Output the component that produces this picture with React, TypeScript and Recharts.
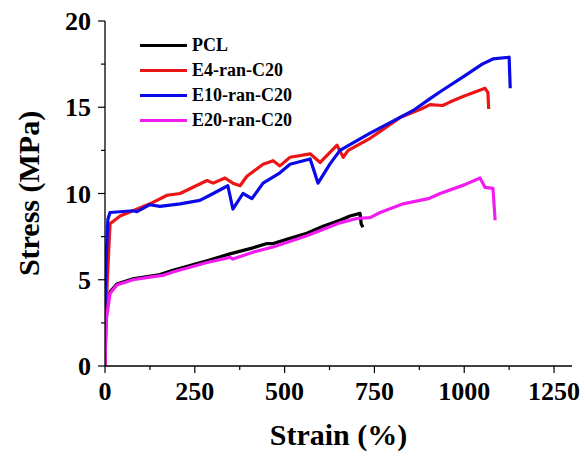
import { LineChart, Line, XAxis, YAxis } from 'recharts';

// [strain %, stress MPa]
const pclCurve: [number, number][] = [
  [0, 0], [3, 3.0], [14, 4.3], [33, 4.75], [78, 5.05], [153, 5.3], [189, 5.55],
  [284, 6.1], [348, 6.5], [412, 6.85], [451, 7.1], [468, 7.1], [515, 7.4],
  [562, 7.7], [607, 8.1], [654, 8.45], [682, 8.7], [710, 8.85], [713, 8.25], [718, 8.05],
];
const e4Curve: [number, number][] = [
  [0, 0], [2, 2.5], [6, 4.8], [14, 8.25], [42, 8.7], [78, 9.0], [125, 9.4], [173, 9.9],
  [209, 10.0], [284, 10.75], [301, 10.6], [334, 10.9], [356, 10.6], [376, 10.45],
  [395, 11.0], [440, 11.7], [468, 11.9], [487, 11.6], [515, 12.1], [571, 12.3],
  [599, 11.8], [646, 12.8], [663, 12.1], [677, 12.5], [738, 13.2], [766, 13.6],
  [821, 14.4], [880, 14.9], [905, 15.15], [940, 15.1], [960, 15.3], [1000, 15.65],
  [1045, 16.0], [1058, 16.1], [1066, 15.85], [1068, 14.9],
];
const e10Curve: [number, number][] = [
  [0, 3.4], [3, 6.0], [8, 8.5], [14, 8.9], [78, 9.0], [89, 8.95], [125, 9.35], [153, 9.25],
  [209, 9.4], [264, 9.6], [292, 9.9], [342, 10.45], [356, 9.1], [384, 10.0], [409, 9.7],
  [440, 10.6], [487, 11.2], [515, 11.7], [571, 12.0], [579, 11.5], [593, 10.6],
  [626, 11.7], [654, 12.5], [738, 13.5], [766, 13.8], [857, 14.8], [905, 15.5],
  [933, 15.9], [1000, 16.8], [1050, 17.5], [1080, 17.8], [1125, 17.9], [1128, 16.1],
];
const e20Curve: [number, number][] = [
  [0, 0], [3, 2.6], [14, 4.2], [33, 4.7], [78, 5.0], [125, 5.15], [161, 5.25],
  [189, 5.45], [284, 6.0], [348, 6.3], [356, 6.2], [412, 6.6], [468, 6.9],
  [562, 7.55], [654, 8.3], [701, 8.55], [738, 8.6], [766, 8.9], [830, 9.4],
  [900, 9.7], [933, 10.0], [1000, 10.5], [1044, 10.9], [1058, 10.35], [1080, 10.3],
  [1086, 8.45],
];

const xTicks = [0, 125, 250, 375, 500, 625, 750, 875, 1000, 1125, 1250];
const yTicks = [0, 2.5, 5, 7.5, 10, 12.5, 15, 17.5, 20];

const series = [
  { name: 'PCL', color: '#000000', curve: pclCurve },
  { name: 'E4-ran-C20', color: '#ec1515', curve: e4Curve },
  { name: 'E10-ran-C20', color: '#0a0ae6', curve: e10Curve },
  { name: 'E20-ran-C20', color: '#f01cf0', curve: e20Curve },
];

const FONT = 'Liberation Serif, DejaVu Serif, serif';

// eslint-disable-next-line @typescript-eslint/no-explicit-any
const XTick = ({ x, y, payload }: any) => {
  const major = payload.value % 250 === 0;
  return (
    <g>
      <line x1={x} x2={x} y1={y} y2={y + (major ? 7 : 4)} stroke="#000" strokeWidth={1.2} />
      {major && (
        <text x={x} y={y + 34} textAnchor="middle" fontFamily={FONT} fontWeight="bold" fontSize={26} fill="#000">
          {payload.value}
        </text>
      )}
    </g>
  );
};

// eslint-disable-next-line @typescript-eslint/no-explicit-any
const YTick = ({ x, y, payload }: any) => {
  const major = payload.value % 5 === 0;
  return (
    <g>
      <line x1={x} x2={x - (major ? 7 : 4)} y1={y} y2={y} stroke="#000" strokeWidth={1.2} />
      {major && (
        <text x={x - 14} y={y} dy="0.35em" textAnchor="end" fontFamily={FONT} fontWeight="bold" fontSize={26} fill="#000">
          {payload.value}
        </text>
      )}
    </g>
  );
};

const LegendBox = () => (
  <div style={{ position: 'absolute', left: 140, top: 33, fontFamily: FONT, fontWeight: 'bold', fontSize: 18, lineHeight: '25px' }}>
    {series.map(s => (
      <div key={s.name} style={{ display: 'flex', alignItems: 'center' }}>
        <span style={{ display: 'inline-block', width: 47, height: 3, background: s.color, marginRight: 5 }} />
        <span>{s.name}</span>
      </div>
    ))}
  </div>
);

export default function App() {
  return (
    <div style={{ position: 'absolute', left: 0, top: 0, width: 585, height: 457, background: '#fff' }}>
      <LineChart width={585} height={457} margin={{ top: 21, right: 13, bottom: 0, left: 0 }}>
        <XAxis
          type="number" dataKey="strain" domain={[0, 1300]} ticks={xTicks} interval={0}
          tick={<XTick />} tickLine={false} tickSize={0} tickMargin={0}
          height={91} axisLine={{ stroke: '#000', strokeWidth: 1.3 }}
          allowDataOverflow
          label={{ value: 'Strain (%)', position: 'insideBottom', offset: 12, style: { fontFamily: FONT, fontWeight: 'bold', fontSize: 30, fill: '#000' } }}
        />
        <XAxis xAxisId="top" orientation="top" type="number" domain={[0, 1300]} tick={false} tickLine={false} height={0} axisLine={{ stroke: '#000', strokeWidth: 1.3 }} />
        <YAxis
          type="number" domain={[0, 20]} ticks={yTicks} interval={0}
          tick={<YTick />} tickLine={false} tickSize={0} tickMargin={0}
          width={105} axisLine={{ stroke: '#000', strokeWidth: 1.3 }}
          allowDataOverflow
          label={{ value: 'Stress (MPa)', angle: -90, position: 'insideLeft', offset: 28, style: { textAnchor: 'middle', fontFamily: FONT, fontWeight: 'bold', fontSize: 30, fill: '#000' } }}
        />
        <YAxis yAxisId="right" orientation="right" domain={[0, 20]} tick={false} tickLine={false} width={0} axisLine={{ stroke: '#000', strokeWidth: 1.3 }} />
        {series.map(s => (
          <Line
            key={s.name}
            name={s.name}
            data={s.curve.map(([strain, stress]) => ({ strain, stress }))}
            dataKey="stress"
            stroke={s.color}
            strokeWidth={3.2}
            strokeLinejoin="round"
            dot={false}
            type="linear"
            isAnimationActive={false}
          />
        ))}
      </LineChart>
      <LegendBox />
    </div>
  );
}
